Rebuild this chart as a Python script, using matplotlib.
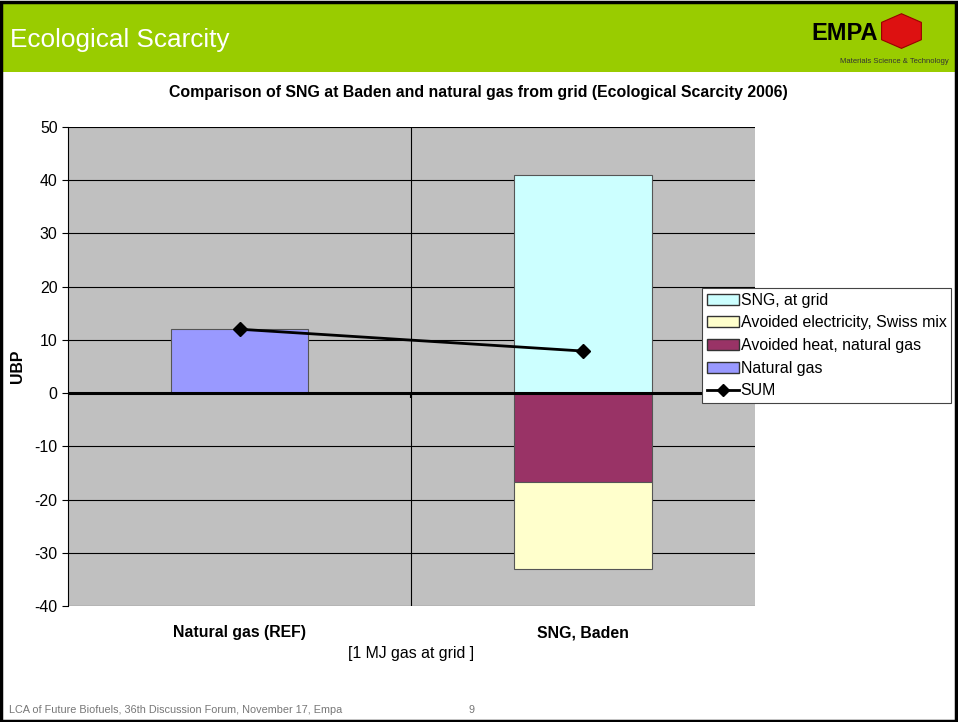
import matplotlib.pyplot as plt
import matplotlib.patches as mpatches
from matplotlib.lines import Line2D

plt.rcParams['font.family'] = ['Liberation Sans', 'DejaVu Sans']
plt.rcParams['axes.unicode_minus'] = False

# data (UBP per MJ gas at grid)
categories = ['Natural gas (REF)', 'SNG, Baden']
natural_gas = [12.0, 0.0]
sng_at_grid = [0.0, 41.0]
avoided_heat = [0.0, -16.7]
avoided_electricity = [0.0, -16.4]
total = [12.0, 7.9]
y_ticks = [50, 40, 30, 20, 10, 0, -10, -20, -30, -40]

c_sng = '#CCFFFF'
c_elec = '#FFFFCC'
c_heat = '#993366'
c_ng = '#9999FF'
fs = 11.4

fig = plt.figure(figsize=(9.58, 7.22), dpi=100)

# slide header
fig.patches.append(mpatches.Rectangle((0.003, 0.9), 0.994, 0.096, transform=fig.transFigure,
                                      facecolor='#99CC00', edgecolor='none'))
fig.patches.append(mpatches.Rectangle((0.0015, 0.002), 0.996, 0.995, transform=fig.transFigure,
                                      facecolor='none', edgecolor='black', linewidth=2.5))
fig.text(0.010, 0.944, 'Ecological Scarcity', color='white', fontsize=18.8, va='center')
fig.text(0.847, 0.954, 'EMPA', color='black', fontsize=17, fontweight='bold', va='center')
# little red cube logo
cube = mpatches.RegularPolygon((0.941, 0.957), 6, radius=0.024, orientation=0.0,
                               transform=fig.transFigure, facecolor='#DD1111',
                               edgecolor='#990000', linewidth=0.8)
fig.patches.append(cube)
fig.text(0.990, 0.915, 'Materials Science & Technology', color='#333333', fontsize=5.5,
         ha='right', va='center')

ax = fig.add_axes([0.071, 0.1607, 0.717, 0.6634])
ax.set_facecolor('#C0C0C0')
x = range(len(categories))
w = 0.4

ax.bar(x, natural_gas, w, color=c_ng, edgecolor='#555555', linewidth=0.8, zorder=3)
ax.bar(x, sng_at_grid, w, color=c_sng, edgecolor='#555555', linewidth=0.8, zorder=3)
ax.bar(x, avoided_heat, w, color=c_heat, edgecolor='#555555', linewidth=0.8, zorder=3)
ax.bar(x, avoided_electricity, w, bottom=avoided_heat, color=c_elec, edgecolor='#555555',
       linewidth=0.8, zorder=3)
ax.plot(x, total, color='black', linewidth=2, marker='D', markersize=7, zorder=5)

ax.set_xlim(-0.5, 1.5)
ax.set_ylim(-40, 50)
ax.set_yticks(y_ticks)
ax.yaxis.grid(True, color='black', linewidth=0.8, zorder=1)
ax.set_axisbelow(True)
ax.axhline(0, color='black', linewidth=2.2, zorder=4)
ax.axvline(0.5, color='black', linewidth=0.8, zorder=2)
ax.vlines([-0.5, 0.5, 1.5], -0.9, 0, color='black', linewidth=1.5, zorder=4)

for s in ['top', 'right', 'bottom']:
    ax.spines[s].set_visible(False)
ax.spines['left'].set_linewidth(0.8)

ax.set_xticks(list(x))
ax.set_xticklabels(categories, fontsize=fs, fontweight='bold')
ax.tick_params(axis='x', length=0, pad=14)
ax.tick_params(axis='y', labelsize=fs, length=4, direction='out')
fig.text(0.018, 0.492, 'UBP', fontsize=fs, fontweight='bold', rotation=90,
         ha='center', va='center')
ax.set_xlabel('[1 MJ gas at grid ]', fontsize=fs)
ax.xaxis.set_label_coords(0.5, -0.083)

fig.text(0.499, 0.872, 'Comparison of SNG at Baden and natural gas from grid (Ecological Scarcity 2006)',
         fontsize=fs, fontweight='bold', ha='center', va='center')

handles = [mpatches.Patch(facecolor=c_sng, edgecolor='#333333', label='SNG, at grid'),
           mpatches.Patch(facecolor=c_elec, edgecolor='#333333', label='Avoided electricity, Swiss mix'),
           mpatches.Patch(facecolor=c_heat, edgecolor='#333333', label='Avoided heat, natural gas'),
           mpatches.Patch(facecolor=c_ng, edgecolor='#333333', label='Natural gas'),
           Line2D([], [], color='black', linewidth=2, marker='D', markersize=6, label='SUM')]
leg = fig.legend(handles=handles, loc='upper left', bbox_to_anchor=(0.733, 0.601),
                 fontsize=fs, frameon=True, fancybox=False, framealpha=1,
                 edgecolor='#444444', borderpad=0.3, labelspacing=0.48,
                 handlelength=2.0, handletextpad=0.12, borderaxespad=0)
leg.get_frame().set_linewidth(0.8)

fig.text(0.009, 0.013, 'LCA of Future Biofuels, 36th Discussion Forum, November 17, Empa',
         fontsize=7.8, color='#777777')
fig.text(0.489, 0.013, '9', fontsize=7.8, color='#777777')

fig.savefig('out.png', dpi=100)
